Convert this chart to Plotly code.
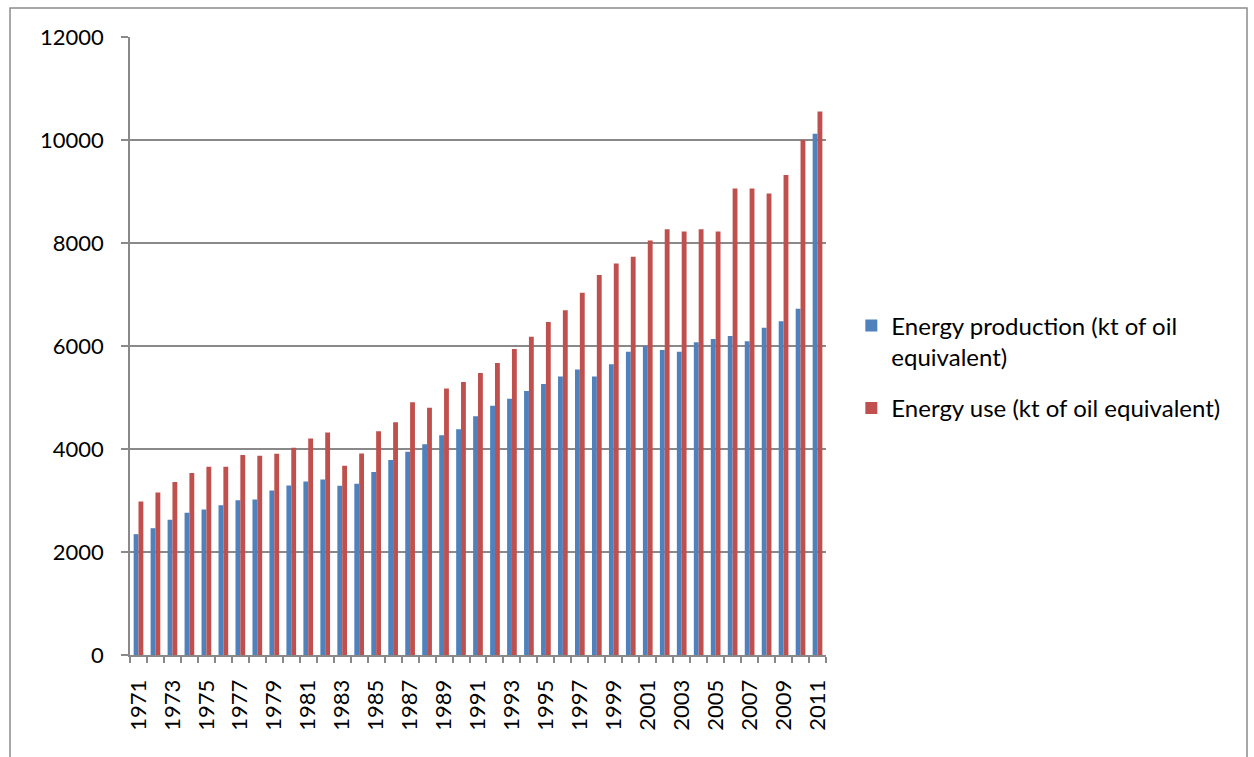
import plotly.graph_objects as go

# Annual energy figures, kt of oil equivalent
years = [str(y) for y in range(1971, 2012)]
production = [2346, 2462, 2624, 2760, 2825, 2910, 3007, 3020, 3195, 3292,
              3370, 3408, 3285, 3324, 3552, 3786, 3948, 4091, 4267, 4383,
              4637, 4838, 4974, 5124, 5260, 5410, 5546, 5407, 5647, 5888,
              6001, 5923, 5888, 6072, 6136, 6192, 6093, 6355, 6483, 6723,
              10120]
use = [2981, 3156, 3357, 3532, 3655, 3655, 3882, 3869, 3907, 4024,
       4206, 4322, 3674, 3914, 4345, 4520, 4909, 4799, 5176, 5299,
       5474, 5669, 5942, 6182, 6468, 6695, 7033, 7381, 7601, 7735,
       8047, 8266, 8223, 8266, 8223, 9059, 9059, 8959, 9320, 10000,
       10552]
y_ticks = [0, 2000, 4000, 6000, 8000, 10000, 12000]
y_labels = [str(v) for v in y_ticks]
x_labels = [y if int(y) % 2 == 1 else "" for y in years]

FONT = "Lato"
GRID = "#898989"

fig = go.Figure()
fig.add_trace(go.Bar(x=years, y=production,
                     name="Energy production (kt of oil<br>equivalent)",
                     marker=dict(color="#4F81BD", line=dict(width=0)),
                     legendgroup="a"))
fig.add_trace(go.Bar(x=years, y=use,
                     name="Energy use (kt of oil equivalent)",
                     marker=dict(color="#C0504D", line=dict(width=0)),
                     legendgroup="b"))

fig.update_layout(
    width=1254, height=757,
    margin=dict(l=130, r=428, t=37, b=102),
    paper_bgcolor="white", plot_bgcolor="white",
    barmode="group", bargap=0.4286, bargroupgap=0,
    font=dict(family=FONT, size=22, color="black"),
    legend=dict(x=1.0364, y=0.466, xanchor="left", yanchor="middle",
                valign="top", tracegroupgap=17,
                font=dict(family=FONT, size=24, color="black"),
                itemwidth=30),
    xaxis=dict(type="category", tickmode="array", tickvals=years,
               ticktext=x_labels, tickangle=-90, tickson="boundaries",
               ticks="outside", ticklen=6, tickcolor=GRID, tickwidth=1.5,
               showline=True, linecolor=GRID, linewidth=1.8,
               showgrid=False, ticklabelstandoff=14,
               tickfont=dict(family=FONT, size=22, color="black")),
    yaxis=dict(range=[0, 12000], tickmode="array", tickvals=y_ticks,
               ticktext=y_labels,
               ticks="outside", ticklen=7, tickcolor=GRID, tickwidth=1.8,
               showline=True, linecolor=GRID, linewidth=1.8,
               showgrid=True, gridcolor=GRID, gridwidth=1.8,
               zeroline=False, ticklabelstandoff=13,
               tickfont=dict(family=FONT, size=22, color="black")),
    shapes=[dict(type="rect", xref="paper", yref="paper",
                 x0=-0.1724, x1=1.6049, y0=-0.2, y1=1.0469,
                 line=dict(color="#8c8c8c", width=1.5),
                 fillcolor="rgba(0,0,0,0)", layer="below")],
)

fig.write_html("out.html")
